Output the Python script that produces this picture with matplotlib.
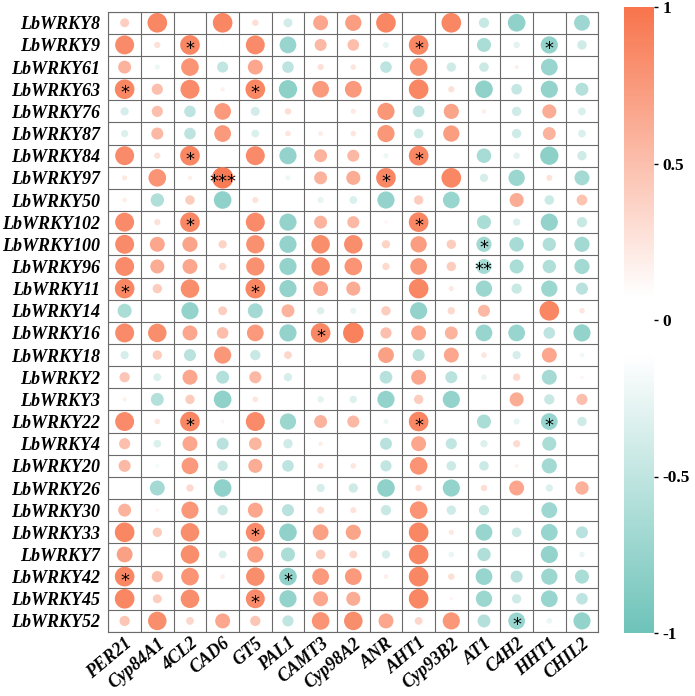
import numpy as np
import matplotlib
matplotlib.use("Agg")
import matplotlib.pyplot as plt
from matplotlib.colors import LinearSegmentedColormap

# genes on the x axis
genes = ["PER21", "Cyp84A1", "4CL2", "CAD6", "GT5", "PAL1", "CAMT3", "Cyp98A2",
         "ANR", "AHT1", "Cyp93B2", "AT1", "C4H2", "HHT1", "CHIL2"]

# transcription factors on the y axis (top to bottom)
wrkys = ["LbWRKY8", "LbWRKY9", "LbWRKY61", "LbWRKY63", "LbWRKY76", "LbWRKY87",
         "LbWRKY84", "LbWRKY97", "LbWRKY50", "LbWRKY102", "LbWRKY100", "LbWRKY96",
         "LbWRKY11", "LbWRKY14", "LbWRKY16", "LbWRKY18", "LbWRKY2", "LbWRKY3",
         "LbWRKY22", "LbWRKY4", "LbWRKY20", "LbWRKY26", "LbWRKY30", "LbWRKY33",
         "LbWRKY7", "LbWRKY42", "LbWRKY45", "LbWRKY52"]

# correlation values, one row per WRKY, columns in genes order
corr = [
    [0.40, 0.88, 0.0, 0.88, 0.29, -0.40, 0.67, 0.73, 0.88, 0.0, 0.88, -0.46, -0.79, 0.0, -0.71],
    [0.85, 0.28, 0.88, 0.10, 0.85, -0.75, 0.54, 0.52, -0.27, 0.88, 0.0, -0.63, -0.29, -0.77, -0.42],
    [0.58, -0.23, 0.79, -0.50, 0.67, -0.52, 0.28, 0.25, -0.52, 0.79, -0.42, -0.43, 0.18, -0.75, 0.0],
    [0.88, 0.50, 0.85, 0.18, 0.88, -0.82, 0.75, 0.75, 0.0, 0.88, 0.28, -0.79, -0.48, -0.77, -0.58],
    [-0.37, 0.50, -0.52, 0.75, -0.40, 0.29, 0.0, 0.23, 0.77, -0.52, 0.68, 0.20, -0.42, 0.63, -0.35],
    [-0.33, 0.54, -0.52, 0.75, -0.35, 0.25, 0.21, 0.25, 0.77, -0.43, 0.73, 0.0, -0.42, 0.58, -0.35],
    [0.85, 0.28, 0.88, 0.0, 0.85, -0.77, 0.58, 0.54, -0.23, 0.88, 0.0, -0.65, -0.29, -0.82, -0.42],
    [0.23, 0.79, 0.19, 0.96, 0.0, -0.23, 0.58, 0.63, 0.88, 0.0, 0.88, -0.37, -0.73, 0.27, -0.67],
    [0.20, -0.60, 0.42, -0.79, 0.27, 0.0, -0.27, -0.35, -0.77, 0.42, -0.75, 0.0, 0.63, -0.43, 0.48],
    [0.85, 0.28, 0.88, 0.0, 0.85, -0.77, 0.58, 0.54, 0.15, 0.88, 0.0, -0.63, -0.33, -0.77, -0.46],
    [0.85, 0.67, 0.68, 0.37, 0.82, -0.77, 0.83, 0.83, 0.37, 0.73, 0.42, -0.68, -0.65, -0.60, -0.68],
    [0.85, 0.63, 0.67, 0.33, 0.82, -0.77, 0.83, 0.79, 0.33, 0.75, 0.42, -0.67, -0.63, -0.60, -0.68],
    [0.88, 0.42, 0.83, 0.0, 0.88, -0.77, 0.67, 0.63, 0.0, 0.88, 0.23, -0.73, -0.46, -0.73, -0.54],
    [-0.63, 0.0, -0.77, 0.40, -0.67, 0.58, -0.33, -0.27, 0.42, -0.77, 0.33, 0.54, 0.0, 0.88, 0.25],
    [0.85, 0.83, 0.67, 0.52, 0.75, -0.77, 0.88, 0.92, 0.50, 0.67, 0.58, -0.75, -0.75, -0.52, -0.77],
    [-0.37, 0.42, -0.54, 0.77, -0.46, 0.35, 0.0, 0.0, 0.71, -0.54, 0.67, 0.25, -0.37, 0.67, -0.21],
    [0.46, -0.35, 0.67, -0.58, 0.54, -0.37, 0.0, 0.0, -0.57, 0.67, -0.54, -0.25, 0.33, -0.67, 0.15],
    [0.18, -0.58, 0.42, -0.79, 0.25, 0.0, -0.29, -0.33, -0.77, 0.42, -0.77, 0.0, 0.63, -0.46, 0.50],
    [0.85, 0.25, 0.88, 0.15, 0.85, -0.73, 0.58, 0.54, -0.23, 0.88, 0.0, -0.63, -0.27, -0.75, -0.42],
    [0.50, -0.35, 0.67, -0.54, 0.57, -0.42, 0.20, 0.0, -0.54, 0.67, -0.50, -0.33, 0.32, -0.63, 0.0],
    [0.54, -0.18, 0.75, -0.46, 0.63, -0.52, 0.27, 0.25, -0.50, 0.79, -0.43, -0.43, 0.17, -0.68, 0.0],
    [0.0, -0.67, 0.33, -0.79, 0.0, 0.0, -0.37, -0.42, -0.79, 0.29, -0.77, 0.29, 0.67, -0.33, 0.60],
    [0.58, 0.15, 0.77, -0.46, 0.67, -0.54, 0.32, 0.27, -0.46, 0.79, -0.42, -0.46, 0.0, -0.71, 0.0],
    [0.88, 0.42, 0.83, 0.0, 0.85, -0.79, 0.71, 0.68, 0.0, 0.88, 0.23, -0.75, -0.43, -0.75, -0.54],
    [0.71, 0.0, 0.83, -0.35, 0.73, -0.63, 0.43, 0.35, -0.37, 0.88, -0.25, -0.60, 0.0, -0.77, -0.25],
    [0.88, 0.50, 0.79, 0.20, 0.83, -0.79, 0.75, 0.75, 0.20, 0.88, 0.29, -0.75, -0.54, -0.73, -0.63],
    [0.88, 0.40, 0.83, 0.0, 0.85, -0.77, 0.67, 0.63, 0.0, 0.88, 0.15, -0.73, -0.42, -0.75, -0.52],
    [0.46, 0.83, 0.35, 0.67, 0.46, -0.50, 0.79, 0.83, 0.67, 0.35, 0.77, -0.58, -0.75, -0.25, -0.77],
]

# significance marks (wrky, gene, stars)
signif = [
    ("LbWRKY9", "4CL2", "*"), ("LbWRKY9", "AHT1", "*"), ("LbWRKY9", "HHT1", "*"),
    ("LbWRKY63", "PER21", "*"), ("LbWRKY63", "GT5", "*"),
    ("LbWRKY84", "4CL2", "*"), ("LbWRKY84", "AHT1", "*"),
    ("LbWRKY97", "CAD6", "***"), ("LbWRKY97", "ANR", "*"),
    ("LbWRKY102", "4CL2", "*"), ("LbWRKY102", "AHT1", "*"),
    ("LbWRKY100", "AT1", "*"), ("LbWRKY96", "AT1", "**"),
    ("LbWRKY11", "PER21", "*"), ("LbWRKY11", "GT5", "*"),
    ("LbWRKY16", "CAMT3", "*"),
    ("LbWRKY22", "4CL2", "*"), ("LbWRKY22", "AHT1", "*"), ("LbWRKY22", "HHT1", "*"),
    ("LbWRKY33", "GT5", "*"),
    ("LbWRKY42", "PER21", "*"), ("LbWRKY42", "PAL1", "*"),
    ("LbWRKY45", "GT5", "*"),
    ("LbWRKY52", "C4H2", "*"),
]

cbar_ticks = [1, 0.5, 0, -0.5, -1]
cbar_labels = ["1", "0.5", "0", "-0.5", "-1"]

teal = "#6fc4ba"
coral = "#f8754d"
cmap = LinearSegmentedColormap.from_list(
    "tc", [(0.0, teal), (0.44, "#ffffff"), (0.54, "#ffffff"), (1.0, coral)])

W, H = 695, 696
fig = plt.figure(figsize=(W / 100, H / 100), dpi=100)
ax = fig.add_axes([108.3 / W, 1 - 632 / H, 490 / W, 620.3 / H])

vals = np.array(corr)
nr, nc = vals.shape
yy, xx = np.mgrid[0:nr, 0:nc]
mask = np.abs(vals) > 0.015
diam = 22.3 * np.abs(vals)                 # circle diameter in pixels
sizes = (diam * 0.72) ** 2
ax.scatter(xx[mask], yy[mask], s=sizes[mask], c=vals[mask], cmap=cmap,
           vmin=-1, vmax=1, linewidths=0, zorder=3)

for wr, g, st in signif:
    ax.text(genes.index(g), wrkys.index(wr) + 0.18, st, ha="center", va="center",
            fontsize=13, color="black", zorder=4)

gcol = "#6a6a6a"
for k in range(nr + 1):
    ax.axhline(k - 0.5, color=gcol, lw=0.8, zorder=1)
for k in range(nc + 1):
    ax.axvline(k - 0.5, color=gcol, lw=0.8, zorder=1)
for sp in ax.spines.values():
    sp.set_color(gcol)
    sp.set_linewidth(0.8)

ax.set_xlim(-0.5, nc - 0.5)
ax.set_ylim(nr - 0.5, -0.5)
lab_font = dict(family=["Liberation Serif"], weight="bold", style="italic", size=13)
ax.set_yticks(range(nr))
ax.set_yticklabels(wrkys, fontdict=lab_font)
ax.set_xticks(range(nc))
ax.set_xticklabels(genes, fontdict=lab_font, rotation=40, ha="right",
                   rotation_mode="anchor")
ax.tick_params(length=0, pad=6)
ax.tick_params(axis="x", pad=2)

# colour bar
cax = fig.add_axes([624 / W, 1 - 633 / H, 30 / W, 626 / H])
grad = np.linspace(1, -1, 400).reshape(-1, 1)
cax.imshow(grad, cmap=cmap, vmin=-1, vmax=1, aspect="auto", extent=[0, 1, -1, 1])
cax.set_xticks([])
cax.yaxis.tick_right()
cax.set_yticks(cbar_ticks)
cax.set_yticklabels(cbar_labels, family=["Liberation Serif"], weight="bold", size=12.5)
cax.tick_params(axis="y", length=3, width=1, pad=3)
for sp in cax.spines.values():
    sp.set_visible(False)

fig.savefig("out.png", dpi=100)
